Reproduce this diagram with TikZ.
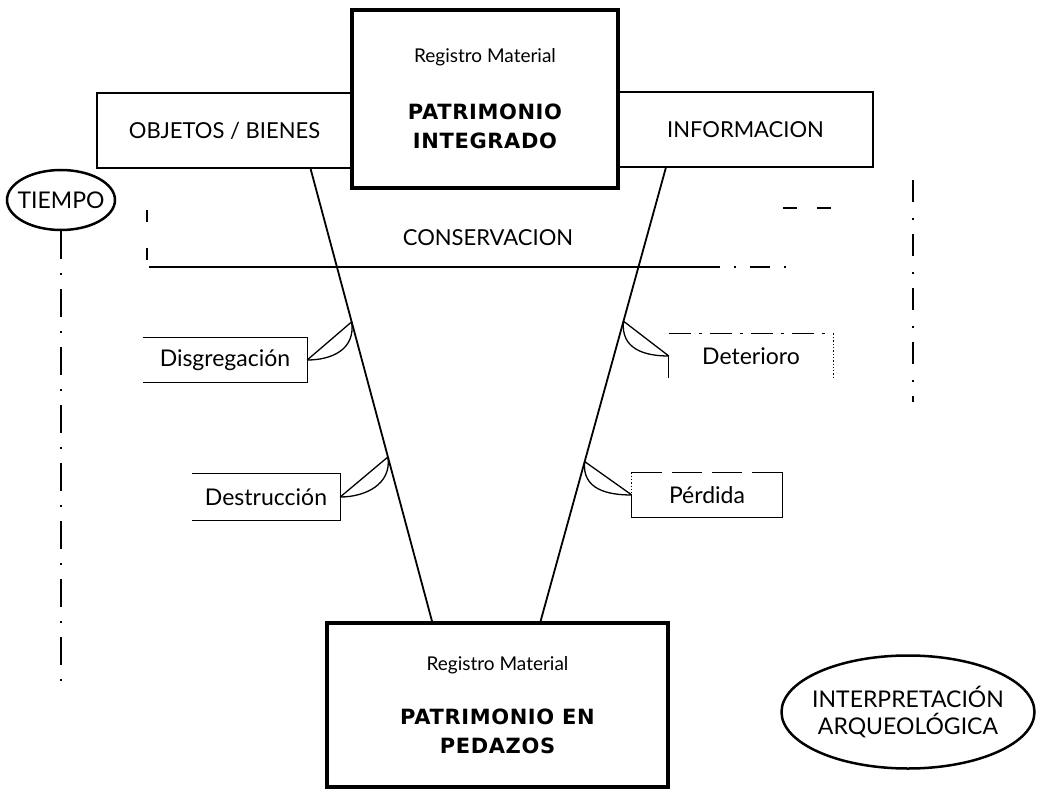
\documentclass[tikz,border=0pt]{standalone}
\usepackage{fontspec}
\setmainfont{Lato}
\newfontfamily\heavyfont{DejaVu Sans}[LetterSpace=3]
\usetikzlibrary{shapes.geometric, calc}

\begin{document}
\begin{tikzpicture}[x=1pt, y=-1pt,
    bigbox/.style={rectangle, draw, line width=3.5pt, fill=white, align=center,
                   font=\heavyfont\bfseries\fontsize{21}{29}\selectfont},
    sidebox/.style={rectangle, draw, line width=2.2pt, fill=white,
                    font=\fontsize{22}{26}\selectfont},
    tag/.style={rectangle, inner sep=0pt, font=\fontsize{23}{27}\selectfont},
    oval/.style={ellipse, draw, line width=2.5pt, inner sep=0pt, align=center,
                 font=\fontsize{23}{27}\selectfont},
    diag/.style={line width=1.8pt},
    fan/.style={line width=1.3pt},
    rim/.style={line width=1.3pt},
    timeline/.style={line width=1.6pt, dash pattern=on 28pt off 14pt on 2pt off 14pt}
]
\useasboundingbox (0,0) rectangle (1039,789);

% upper row
\node[sidebox, minimum width=255, minimum height=75] (objetos) at (224.5,130.5) {OBJETOS / BIENES};
\node[sidebox, minimum width=255, minimum height=75] (informacion) at (745.5,129.5) {INFORMACION};
\node[bigbox, minimum width=266, minimum height=178] (integrado) at (485,99)
    {{\normalfont\fontsize{19}{22}\selectfont Registro Material}\\[28pt]PATRIMONIO\\INTEGRADO};

% lower box and ovals
\node[bigbox, line width=4pt, minimum width=341, minimum height=164] (pedazos) at (497.5,705)
    {{\normalfont\fontsize{19}{22}\selectfont Registro Material}\\[25pt]PATRIMONIO EN\\PEDAZOS};
\node[oval, minimum width=108, minimum height=60] (tiempo) at (61,200) {\makebox[60pt]{TIEMPO}};
\node[oval, minimum width=253, minimum height=113] (interp) at (908,712)
    {\makebox[150pt]{INTERPRETACIÓN}\\\makebox[150pt]{ARQUEOLÓGICA}};

% conservation band
\node[tag, font=\fontsize{22}{26}\selectfont] (conserv) at (488,238) {CONSERVACION};
\draw[rim, dash pattern=on 14pt off 20pt] (783,208) -- (840,208);
\draw[rim, dash pattern=on 12pt off 26pt] (147,210) -- (147,266);
\draw[rim] (149,267) -- (700,267);
\draw[rim, dash pattern=on 20pt off 14pt on 2pt off 14pt] (700,267) -- (800,267);
\draw[rim, dash pattern=on 22pt off 16pt on 2pt off 14pt] (913,180) -- (913,402);

% time axis
\coordinate (tend) at (63,685);
\draw[timeline] (tiempo.south) -- (tiempo.south |- tend);

% the two branches
\coordinate (lt) at ($(objetos.south west)!0.835!(objetos.south east)$);
\coordinate (lb) at ($(pedazos.north west)!0.31!(pedazos.north east)$);
\coordinate (rt) at ($(informacion.south west)!0.19!(informacion.south east)$);
\coordinate (rb) at ($(pedazos.north west)!0.625!(pedazos.north east)$);
\draw[diag] (lt) -- (lb);
\draw[diag] (rt) -- (rb);

% processes
\node[tag, minimum width=164, minimum height=45] (disg) at (225,360) {Disgregación};
\node[tag, minimum width=148, minimum height=46] (destr) at (266,497) {Destrucción};
\node[tag, minimum width=164, minimum height=44] (deter) at (751,356) {Deterioro};
\node[tag, minimum width=150, minimum height=45] (perd) at (707,495) {Pérdida};

\draw[rim] (disg.north west) -- (disg.north east) -- (disg.south east) -- (disg.south west);
\draw[rim] (destr.north west) -- (destr.north east) -- (destr.south east) -- (destr.south west);
\draw[rim, dash pattern=on 22pt off 8pt on 3pt off 8pt] (deter.north west) -- (deter.north east);
\draw[rim] (deter.west) -- (deter.south west);
\draw[rim, dotted] (deter.north east) -- (deter.south east);
\draw[rim, dash pattern=on 30pt off 10pt] (perd.north east) -- (perd.north west);
\draw[rim, dotted] (perd.north west) -- (perd.west);
\draw[rim] (perd.west) -- (perd.south west) -- (perd.south east) -- (perd.north east);

\coordinate (f1) at ($(lt)!0.338!(lb)$);
\coordinate (f2) at ($(lt)!0.637!(lb)$);
\coordinate (f3) at ($(rt)!0.338!(rb)$);
\coordinate (f4) at ($(rt)!0.648!(rb)$);
\draw[fan] (f1) -- (disg.east) (f1) .. controls ($(f1)+(4,28)$) and ($(disg.east)+(24,0)$) .. (disg.east);
\draw[fan] (f2) -- (destr.east) (f2) .. controls ($(f2)+(4,28)$) and ($(destr.east)+(24,0)$) .. (destr.east);
\draw[fan] (f3) -- (deter.west) (f3) .. controls ($(f3)+(-3,28)$) and ($(deter.west)+(-24,0)$) .. (deter.west);
\draw[fan] (f4) -- (perd.west) (f4) .. controls ($(f4)+(-3,28)$) and ($(perd.west)+(-24,0)$) .. (perd.west);
\end{tikzpicture}
\end{document}
